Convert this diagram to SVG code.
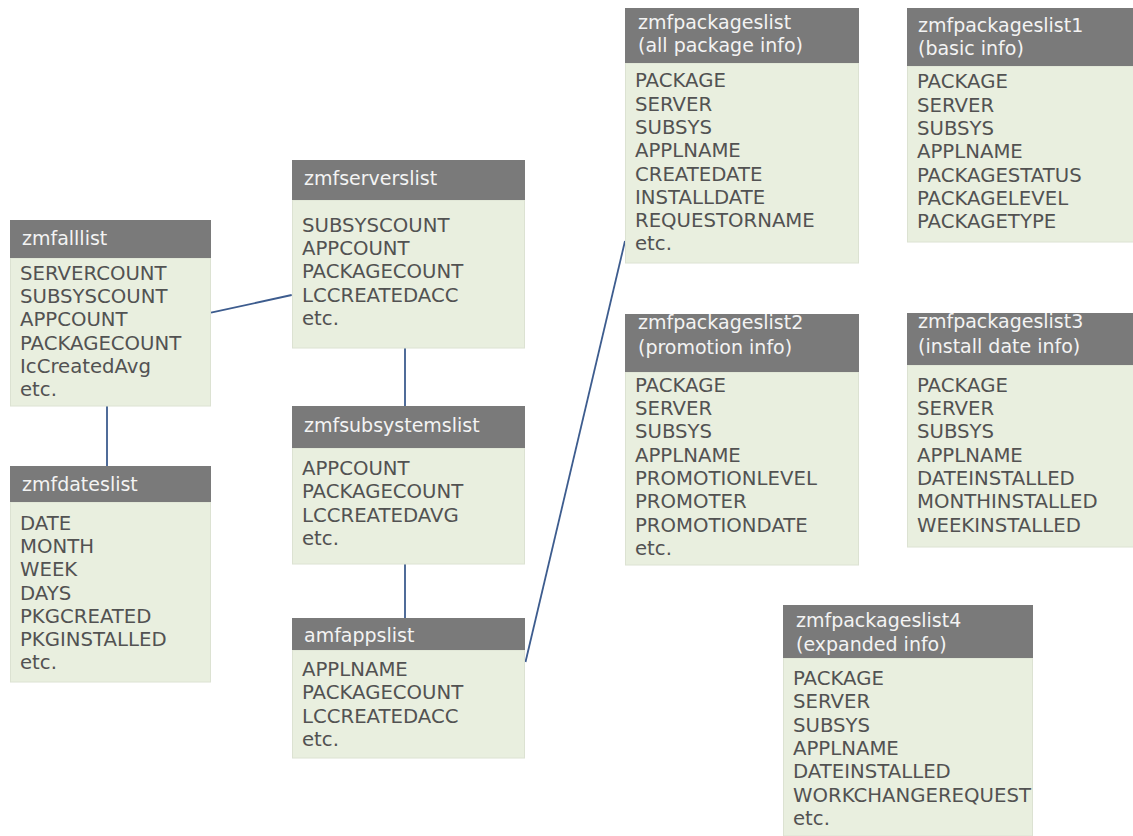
<svg xmlns="http://www.w3.org/2000/svg" width="1133" height="836" viewBox="0 0 1133 836">
<style>
  .hdr { fill: #7a7a7a; }
  .body { fill: #e9efdf; stroke: #dce2d2; stroke-width: 1; }
  .ttl { font-family: "DejaVu Sans", Verdana, sans-serif; font-size: 19px; fill: #f3f3f3; }
  .fld { font-family: "DejaVu Sans", Verdana, sans-serif; font-size: 19.7px; fill: #525252; }
  .conn { stroke: #3d5c8e; stroke-width: 1.8; fill: none; }
</style>
<rect width="1133" height="836" fill="#ffffff"/>

<g id="connectors">
  <line class="conn" x1="211" y1="312.7" x2="291.7" y2="295"/>
  <line class="conn" x1="107" y1="406" x2="107" y2="466"/>
  <line class="conn" x1="405" y1="348" x2="405" y2="406"/>
  <line class="conn" x1="405" y1="564" x2="405" y2="618"/>
  <line class="conn" x1="525.5" y1="662" x2="625" y2="241"/>
</g>

<g id="zmfalllist">
  <rect class="body" x="10.5" y="258" width="200" height="148"/>
  <rect class="hdr" x="10" y="220" width="201" height="38"/>
  <text class="ttl" x="22" y="245">zmfalllist</text>
  <text class="fld" x="20">
    <tspan x="20" y="280">SERVERCOUNT</tspan>
    <tspan x="20" y="303.2">SUBSYSCOUNT</tspan>
    <tspan x="20" y="326.4">APPCOUNT</tspan>
    <tspan x="20" y="349.6">PACKAGECOUNT</tspan>
    <tspan x="20" y="372.8">IcCreatedAvg</tspan>
    <tspan x="20" y="396">etc.</tspan>
  </text>
</g>

<g id="zmfdateslist">
  <rect class="body" x="10.5" y="502" width="200" height="180"/>
  <rect class="hdr" x="10" y="466" width="201" height="36"/>
  <text class="ttl" x="22" y="491">zmfdateslist</text>
  <text class="fld">
    <tspan x="20" y="530">DATE</tspan>
    <tspan x="20" y="553.2">MONTH</tspan>
    <tspan x="20" y="576.4">WEEK</tspan>
    <tspan x="20" y="599.6">DAYS</tspan>
    <tspan x="20" y="622.8">PKGCREATED</tspan>
    <tspan x="20" y="646">PKGINSTALLED</tspan>
    <tspan x="20" y="669.2">etc.</tspan>
  </text>
</g>

<g id="zmfserverslist">
  <rect class="body" x="292.5" y="200" width="232" height="148"/>
  <rect class="hdr" x="292" y="160" width="233" height="40"/>
  <text class="ttl" x="304" y="185">zmfserverslist</text>
  <text class="fld">
    <tspan x="302" y="231.7">SUBSYSCOUNT</tspan>
    <tspan x="302" y="255">APPCOUNT</tspan>
    <tspan x="302" y="278.3">PACKAGECOUNT</tspan>
    <tspan x="302" y="301.6">LCCREATEDACC</tspan>
    <tspan x="302" y="324.9">etc.</tspan>
  </text>
</g>

<g id="zmfsubsystemslist">
  <rect class="body" x="292.5" y="448" width="232" height="116"/>
  <rect class="hdr" x="292" y="406" width="233" height="42"/>
  <text class="ttl" x="304" y="432">zmfsubsystemslist</text>
  <text class="fld">
    <tspan x="302" y="475">APPCOUNT</tspan>
    <tspan x="302" y="498.3">PACKAGECOUNT</tspan>
    <tspan x="302" y="521.6">LCCREATEDAVG</tspan>
    <tspan x="302" y="544.9">etc.</tspan>
  </text>
</g>

<g id="amfappslist">
  <rect class="body" x="292.5" y="650" width="232" height="108"/>
  <rect class="hdr" x="292" y="618" width="233" height="32"/>
  <text class="ttl" x="304" y="642">amfappslist</text>
  <text class="fld">
    <tspan x="302" y="676">APPLNAME</tspan>
    <tspan x="302" y="699.3">PACKAGECOUNT</tspan>
    <tspan x="302" y="722.6">LCCREATEDACC</tspan>
    <tspan x="302" y="745.9">etc.</tspan>
  </text>
</g>

<g id="zmfpackageslist">
  <rect class="body" x="625.5" y="63" width="233" height="200"/>
  <rect class="hdr" x="625" y="8" width="234" height="55"/>
  <text class="ttl">
    <tspan x="638" y="28.5">zmfpackageslist</tspan>
    <tspan x="638" y="52">(all package info)</tspan>
  </text>
  <text class="fld">
    <tspan x="635" y="87.3">PACKAGE</tspan>
    <tspan x="635" y="110.6">SERVER</tspan>
    <tspan x="635" y="133.9">SUBSYS</tspan>
    <tspan x="635" y="157.2">APPLNAME</tspan>
    <tspan x="635" y="180.5">CREATEDATE</tspan>
    <tspan x="635" y="203.8">INSTALLDATE</tspan>
    <tspan x="635" y="227.1">REQUESTORNAME</tspan>
    <tspan x="635" y="250.4">etc.</tspan>
  </text>
</g>

<g id="zmfpackageslist1">
  <rect class="body" x="907.5" y="66" width="226" height="176"/>
  <rect class="hdr" x="907" y="8" width="226" height="58"/>
  <text class="ttl">
    <tspan x="918" y="31.5">zmfpackageslist1</tspan>
    <tspan x="918" y="55">(basic info)</tspan>
  </text>
  <text class="fld">
    <tspan x="917" y="88.3">PACKAGE</tspan>
    <tspan x="917" y="111.6">SERVER</tspan>
    <tspan x="917" y="134.9">SUBSYS</tspan>
    <tspan x="917" y="158.2">APPLNAME</tspan>
    <tspan x="917" y="181.5">PACKAGESTATUS</tspan>
    <tspan x="917" y="204.8">PACKAGELEVEL</tspan>
    <tspan x="917" y="228.1">PACKAGETYPE</tspan>
  </text>
</g>

<g id="zmfpackageslist2">
  <rect class="body" x="625.5" y="372" width="233" height="193"/>
  <rect class="hdr" x="625" y="314" width="234" height="58"/>
  <text class="ttl">
    <tspan x="638" y="329">zmfpackageslist2</tspan>
    <tspan x="638" y="354">(promotion info)</tspan>
  </text>
  <text class="fld">
    <tspan x="635" y="391.7">PACKAGE</tspan>
    <tspan x="635" y="415">SERVER</tspan>
    <tspan x="635" y="438.3">SUBSYS</tspan>
    <tspan x="635" y="461.6">APPLNAME</tspan>
    <tspan x="635" y="484.9">PROMOTIONLEVEL</tspan>
    <tspan x="635" y="508.2">PROMOTER</tspan>
    <tspan x="635" y="531.5">PROMOTIONDATE</tspan>
    <tspan x="635" y="554.8">etc.</tspan>
  </text>
</g>

<g id="zmfpackageslist3">
  <rect class="body" x="907.5" y="365" width="226" height="182"/>
  <rect class="hdr" x="907" y="313" width="226" height="52"/>
  <text class="ttl">
    <tspan x="918" y="328">zmfpackageslist3</tspan>
    <tspan x="918" y="353">(install date info)</tspan>
  </text>
  <text class="fld">
    <tspan x="917" y="391.7">PACKAGE</tspan>
    <tspan x="917" y="415">SERVER</tspan>
    <tspan x="917" y="438.3">SUBSYS</tspan>
    <tspan x="917" y="461.6">APPLNAME</tspan>
    <tspan x="917" y="484.9">DATEINSTALLED</tspan>
    <tspan x="917" y="508.2">MONTHINSTALLED</tspan>
    <tspan x="917" y="531.5">WEEKINSTALLED</tspan>
  </text>
</g>

<g id="zmfpackageslist4">
  <rect class="body" x="783.5" y="658" width="249" height="178"/>
  <rect class="hdr" x="783" y="605" width="250" height="53"/>
  <text class="ttl">
    <tspan x="796" y="626.5">zmfpackageslist4</tspan>
    <tspan x="796" y="650.5">(expanded info)</tspan>
  </text>
  <text class="fld">
    <tspan x="793" y="685">PACKAGE</tspan>
    <tspan x="793" y="708.3">SERVER</tspan>
    <tspan x="793" y="731.6">SUBSYS</tspan>
    <tspan x="793" y="754.9">APPLNAME</tspan>
    <tspan x="793" y="778.2">DATEINSTALLED</tspan>
    <tspan x="793" y="801.5">WORKCHANGEREQUEST</tspan>
    <tspan x="793" y="824.8">etc.</tspan>
  </text>
</g>
</svg>
